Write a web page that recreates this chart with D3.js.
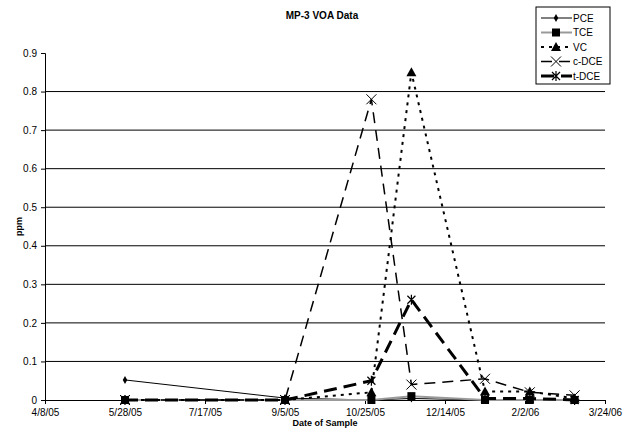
<!DOCTYPE html>
<html>
<head>
<meta charset="utf-8">
<script src="https://cdn.jsdelivr.net/npm/d3@7"></script>
<style>
  html, body { margin: 0; padding: 0; background: #fff; overflow: hidden; }
  svg { display: block; }
  text { font-family: "Liberation Sans", Arial, sans-serif; }
</style>
</head>
<body>
<div id="chart"></div>
<script>
// sample dates and values (ppm)
var sampleDates = ["2005-05-28", "2005-09-05", "2005-10-29", "2005-11-23", "2006-01-08", "2006-02-05", "2006-03-05"];
var pce  = [0.052, 0.005, 0, 0.004, 0, 0, 0];
var tce  = [0, 0, 0, 0.01, 0, 0, 0];
var vc   = [0, 0, 0.02, 0.85, 0.022, 0.022, 0.004];
var cdce = [0, 0, 0.78, 0.04, 0.055, 0.02, 0.012];
var tdce = [0, 0, 0.05, 0.26, 0.004, 0.004, 0];
var seriesNames = ["PCE", "TCE", "VC", "c-DCE", "t-DCE"];
var xTickLabels = ["2005-04-08", "2005-05-28", "2005-07-17", "2005-09-05", "2005-10-25", "2005-12-14", "2006-02-02", "2006-03-24"];
var yTicks = [0, 0.1, 0.2, 0.3, 0.4, 0.5, 0.6, 0.7, 0.8, 0.9];

var width = 628, height = 437;
var margin = {top: 53, right: 23, bottom: 37, left: 45};
var innerWidth = width - margin.left - margin.right;
var innerHeight = height - margin.top - margin.bottom;

var parseDate = d3.timeParse("%Y-%m-%d");
var fmtDate = d3.timeFormat("%-m/%-d/%y");

var xScale = d3.scaleTime()
    .domain([parseDate(xTickLabels[0]), parseDate(xTickLabels[xTickLabels.length - 1])])
    .range([0, innerWidth]);
var yScale = d3.scaleLinear()
    .domain([0, 0.9])
    .range([innerHeight, 0]);

var svg = d3.select("#chart").append("svg")
    .attr("width", width)
    .attr("height", height);

svg.append("text")
    .attr("x", 322).attr("y", 19)
    .attr("text-anchor", "middle")
    .style("font-size", "10px").style("font-weight", "bold")
    .text("MP-3 VOA Data");

svg.append("text")
    .attr("transform", "translate(22," + (margin.top + innerHeight / 2) + ") rotate(-90)")
    .attr("text-anchor", "middle")
    .style("font-size", "9px").style("font-weight", "bold")
    .text("ppm");

svg.append("text")
    .attr("x", 325).attr("y", 426)
    .attr("text-anchor", "middle")
    .style("font-size", "9px").style("font-weight", "bold")
    .text("Date of Sample");

var g = svg.append("g")
    .attr("transform", "translate(" + margin.left + "," + margin.top + ")");

// gridlines (none on the top tick)
g.append("g").selectAll("line")
    .data(yTicks.filter(function(d){ return d > 0 && d < 0.9; }))
    .enter().append("line")
    .attr("x1", 0).attr("x2", innerWidth)
    .attr("y1", function(d){ return yScale(d); })
    .attr("y2", function(d){ return yScale(d); })
    .attr("stroke", "#000").attr("stroke-width", 1);

var yAxis = d3.axisLeft(yScale)
    .tickValues(yTicks)
    .tickSize(4)
    .tickPadding(4)
    .tickFormat(function(d){ return d === 0 ? "0" : d3.format(".1f")(d); });
var xAxis = d3.axisBottom(xScale)
    .tickValues(xTickLabels.map(parseDate))
    .tickSize(4)
    .tickPadding(5)
    .tickFormat(fmtDate);

var yG = g.append("g").call(yAxis);
var xG = g.append("g").attr("transform", "translate(0," + innerHeight + ")").call(xAxis);
[yG, xG].forEach(function(ax){
    ax.attr("font-family", "Liberation Sans, Arial, sans-serif").attr("font-size", 10);
    ax.select(".domain").attr("stroke", "#000");
    ax.selectAll(".tick line").attr("stroke", "#000");
    ax.selectAll("text").attr("fill", "#000");
});

var dates = sampleDates.map(parseDate);
var styles = [
    {vals: pce,  color: "#000",    width: 1,   dash: null,   marker: "diamond"},
    {vals: tce,  color: "#9a9a9a", width: 2,   dash: null,   marker: "square"},
    {vals: vc,   color: "#000",    width: 2,   dash: "3,5",  marker: "triangle"},
    {vals: cdce, color: "#000",    width: 1.5, dash: "11,7", marker: "x"},
    {vals: tdce, color: "#000",    width: 3,   dash: "13,7", marker: "star"}
];

var line = d3.line()
    .x(function(d){ return xScale(d.date); })
    .y(function(d){ return yScale(d.v); });

function drawMarker(sel, type, cx, cy) {
    if (type === "diamond") {
        sel.append("path").attr("d", d3.symbol(d3.symbolDiamond, 18)())
            .attr("transform", "translate(" + cx + "," + cy + ")").attr("fill", "#000");
    } else if (type === "square") {
        sel.append("rect").attr("x", cx - 4).attr("y", cy - 4).attr("width", 8).attr("height", 8).attr("fill", "#000");
    } else if (type === "triangle") {
        sel.append("path").attr("d", "M" + cx + "," + (cy - 5) + "L" + (cx + 5) + "," + (cy + 4) + "L" + (cx - 5) + "," + (cy + 4) + "Z")
            .attr("fill", "#000");
    } else if (type === "x") {
        sel.append("path").attr("d", "M" + (cx - 5) + "," + (cy - 5) + "L" + (cx + 5) + "," + (cy + 5) + "M" + (cx + 5) + "," + (cy - 5) + "L" + (cx - 5) + "," + (cy + 5))
            .attr("stroke", "#000").attr("stroke-width", 1).attr("fill", "none");
    } else {
        sel.append("path").attr("d", "M" + (cx - 4) + "," + (cy - 4) + "L" + (cx + 4) + "," + (cy + 4) + "M" + (cx + 4) + "," + (cy - 4) + "L" + (cx - 4) + "," + (cy + 4) + "M" + cx + "," + (cy - 5) + "L" + cx + "," + (cy + 5))
            .attr("stroke", "#000").attr("stroke-width", 1.2).attr("fill", "none");
    }
}

styles.forEach(function(s){
    var pts = dates.map(function(d, i){ return {date: d, v: s.vals[i]}; });
    g.append("path").datum(pts)
        .attr("d", line)
        .attr("fill", "none")
        .attr("stroke", s.color)
        .attr("stroke-width", s.width)
        .attr("stroke-dasharray", s.dash);
    var mg = g.append("g");
    pts.forEach(function(p){
        drawMarker(mg, s.marker, xScale(p.date), yScale(p.v));
    });
});

// legend
var legend = svg.append("g").attr("transform", "translate(536,7)");
legend.append("rect")
    .attr("width", 74).attr("height", 77)
    .attr("fill", "#fff").attr("stroke", "#000").attr("stroke-width", 1);
seriesNames.forEach(function(name, i){
    var s = styles[i];
    var ly = 11 + i * 14.5;
    legend.append("line")
        .attr("x1", 5).attr("x2", 36).attr("y1", ly).attr("y2", ly)
        .attr("stroke", s.color).attr("stroke-width", s.width)
        .attr("stroke-dasharray", s.dash);
    drawMarker(legend, s.marker, 20, ly);
    legend.append("text")
        .attr("x", 37).attr("y", ly + 3.5)
        .style("font-size", "10px")
        .text(name);
});
</script>
</body>
</html>
